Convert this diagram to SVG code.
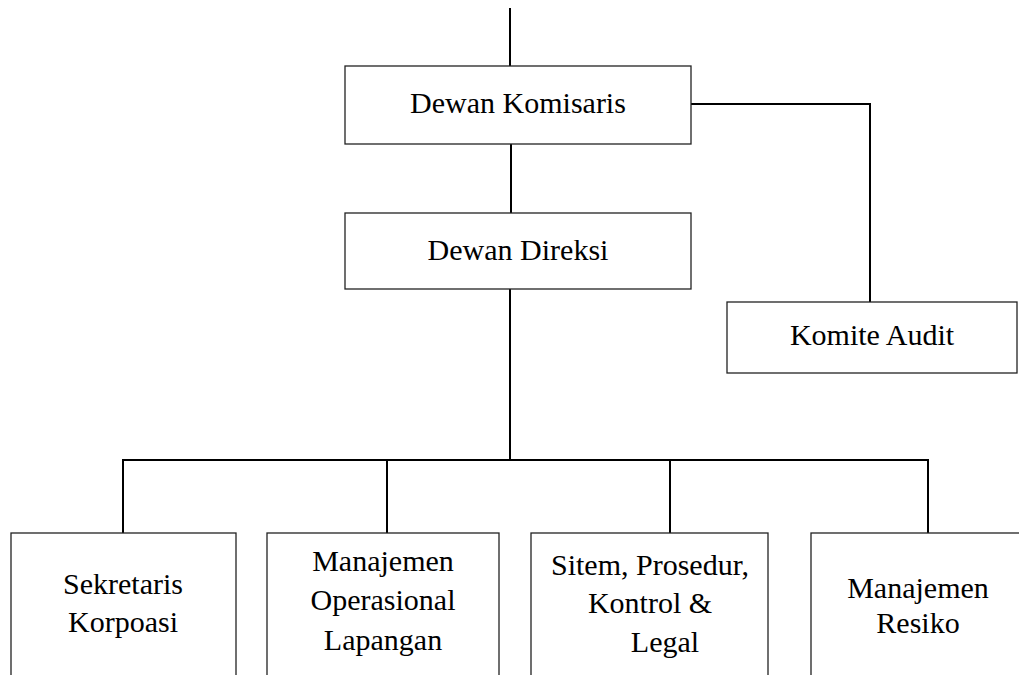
<svg xmlns="http://www.w3.org/2000/svg" width="1019" height="675" viewBox="0 0 1019 675">
<style>
.box{fill:#fff;stroke:#222;stroke-width:1.3}
.ln{fill:none;stroke:#000;stroke-width:2}
text{font-family:"Liberation Serif","Times New Roman",serif;font-size:30px;fill:#000;text-anchor:middle}
</style>
<rect width="1019" height="675" fill="#fff"/>
<g id="connectors">
<line class="ln" x1="510" y1="8" x2="510" y2="66"/>
<line class="ln" x1="511" y1="144" x2="511" y2="213"/>
<polyline class="ln" points="691,104 870,104 870,302"/>
<line class="ln" x1="510" y1="289" x2="510" y2="460"/>
<polyline class="ln" points="123,533 123,460 928,460 928,533"/>
<line class="ln" x1="387" y1="460" x2="387" y2="533"/>
<line class="ln" x1="670" y1="460" x2="670" y2="533"/>
</g>
<g id="dewan-komisaris">
<rect class="box" x="345" y="66" width="346" height="78"/>
<text x="518" y="113">Dewan Komisaris</text>
</g>
<g id="dewan-direksi">
<rect class="box" x="345" y="213" width="346" height="76"/>
<text x="518" y="260">Dewan Direksi</text>
</g>
<g id="komite-audit">
<rect class="box" x="727" y="302" width="290" height="71"/>
<text x="872" y="345">Komite Audit</text>
</g>
<g id="sekretaris">
<rect class="box" x="11" y="533" width="225" height="170"/>
<text x="123" y="594">Sekretaris</text>
<text x="123" y="632">Korpoasi</text>
</g>
<g id="manajemen-operasional">
<rect class="box" x="267" y="533" width="232" height="170"/>
<text x="383" y="571">Manajemen</text>
<text x="383" y="610">Operasional</text>
<text x="383" y="650">Lapangan</text>
</g>
<g id="sitem-prosedur">
<rect class="box" x="531" y="533" width="237" height="170"/>
<text x="650" y="575">Sitem, Prosedur,</text>
<text x="650" y="613">Kontrol &amp;</text>
<text x="665" y="652">Legal</text>
</g>
<g id="manajemen-resiko">
<rect class="box" x="811" y="533" width="230" height="170"/>
<text x="918" y="598">Manajemen</text>
<text x="918" y="633">Resiko</text>
</g>
</svg>
